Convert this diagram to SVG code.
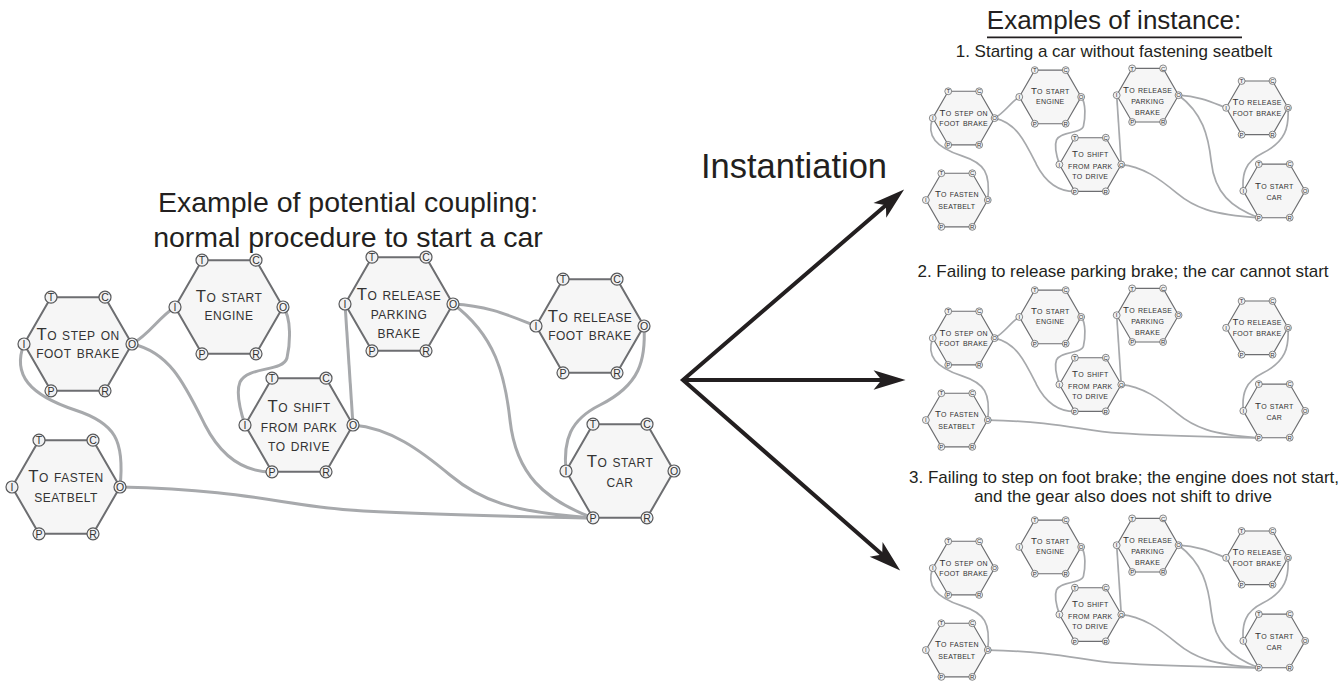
<svg xmlns="http://www.w3.org/2000/svg" xmlns:xlink="http://www.w3.org/1999/xlink" width="1340" height="684" viewBox="0 0 1340 684">
<style>
.hex{fill:#f6f6f6;stroke:#6d6e71;stroke-width:2}
.pc{fill:#f1f1f2;stroke:#58595b;stroke-width:1.2}
.pl{font-family:"Liberation Sans",Arial,sans-serif;font-size:10.5px;fill:#333;text-anchor:middle}
.lbl{font-family:"Liberation Sans",Arial,sans-serif;font-size:16.8px;font-variant:small-caps;letter-spacing:0.5px;fill:#333;text-anchor:middle}
.cn{fill:none;stroke:#a7a9ac;stroke-width:3}
.t{font-family:"Liberation Sans",Arial,sans-serif;fill:#231f20;text-anchor:middle}
.arr{fill:none;stroke:#231f20;stroke-width:4;stroke-linejoin:miter;stroke-miterlimit:10}
</style>
<defs>
<polygon id="hex" points="54,0 27,46.8 -27,46.8 -54,0 -27,-46.8 27,-46.8"/>
<g id="ports">
<circle class="pc" cx="-27" cy="-46.8" r="6"/><text class="pl" x="-27" y="-43">T</text>
<circle class="pc" cx="27" cy="-46.8" r="6"/><text class="pl" x="27" y="-43">C</text>
<circle class="pc" cx="54" cy="0" r="6"/><text class="pl" x="54" y="3.8">O</text>
<circle class="pc" cx="27" cy="46.8" r="6"/><text class="pl" x="27" y="50.6">R</text>
<circle class="pc" cx="-27" cy="46.8" r="6"/><text class="pl" x="-27" y="50.6">P</text>
<circle class="pc" cx="-54" cy="0" r="6"/><text class="pl" x="-54" y="3.8">I</text>
</g>
<marker id="ah" markerUnits="userSpaceOnUse" orient="auto-start-reverse" refX="0" refY="0" markerWidth="40" markerHeight="30" viewBox="-20 -15 45 30" overflow="visible">
<path d="M22,0 L-14,-11 L-5,0 L-14,11 Z" fill="#231f20"/>
</marker>
</defs>

<!-- Titles -->
<text class="t" x="348" y="212" font-size="28.5">Example of potential coupling:</text>
<text class="t" x="348" y="247" font-size="28.5">normal procedure to start a car</text>
<text class="t" x="794" y="178" font-size="34.5">Instantiation</text>
<text class="t" x="1114" y="29" font-size="26">Examples of instance:</text>
<line x1="987" y1="37.3" x2="1242" y2="37.3" stroke="#231f20" stroke-width="1.8"/>
<text class="t" x="1114" y="57" font-size="17">1. Starting a car without fastening seatbelt</text>
<text class="t" x="1123" y="277" font-size="17">2. Failing to release parking brake; the car cannot start</text>
<text class="t" x="1124" y="483" font-size="17">3. Failing to step on foot brake; the engine does not start,</text>
<text class="t" x="1123" y="502" font-size="17">and the gear also does not shift to drive</text>

<!-- Instantiation arrows -->
<g id="arrows">
<path class="arr" d="M889.3,202.3 L683,380 L885.5,557.5" marker-start="url(#ah)" marker-end="url(#ah)"/>
<path class="arr" d="M683,380 L886,380" marker-end="url(#ah)"/>
</g>

<!-- Main diagram: potential coupling -->
<g id="coupling">
<g id="coupling-connectors">
<path class="cn" d="M132,344 C150,334 158,318 175,307"/>
<path class="cn" d="M132,344 C170,352 185,385 205,425 C222,458 245,472 272,472"/>
<path class="cn" d="M24,344 C12,375 30,395 75,410 C115,423 125,440 120,487"/>
<path class="cn" d="M283,307 C292,318 290,345 287,358 C283,372 248,366 240,382 C236,392 240,410 245,425"/>
<path class="cn" d="M353,425 L345,304"/>
<path class="cn" d="M453,304 C490,306 510,316 536,326"/>
<path class="cn" d="M453,304 C495,335 505,375 510,420 C516,475 545,500 593,518"/>
<path class="cn" d="M353,425 C390,428 420,450 450,475 C480,500 510,512 593,518"/>
<path class="cn" d="M120,487 C250,490 280,505 350,510 C420,515 500,516 593,518"/>
<path class="cn" d="M644,326 C646,360 640,385 600,405 C570,420 563,440 566,471"/>
</g>
<g id="coupling-footbrake" transform="translate(78,344)"><use href="#hex" class="hex"/><use href="#ports"/><text class="lbl" y="-4">To step on</text><text class="lbl" y="14">foot brake</text></g>
<g id="coupling-engine" transform="translate(229,307)"><use href="#hex" class="hex"/><use href="#ports"/><text class="lbl" y="-5">To start</text><text class="lbl" y="13">engine</text></g>
<g id="coupling-shift" transform="translate(299,425)"><use href="#hex" class="hex"/><use href="#ports"/><text class="lbl" y="-13">To shift</text><text class="lbl" y="7">from park</text><text class="lbl" y="26">to drive</text></g>
<g id="coupling-seatbelt" transform="translate(66,487)"><use href="#hex" class="hex"/><use href="#ports"/><text class="lbl" y="-5">To fasten</text><text class="lbl" y="15">seatbelt</text></g>
<g id="coupling-parking" transform="translate(399,304)"><use href="#hex" class="hex"/><use href="#ports"/><text class="lbl" y="-4">To release</text><text class="lbl" y="15">parking</text><text class="lbl" y="34">brake</text></g>
<g id="coupling-footrelease" transform="translate(590,326)"><use href="#hex" class="hex"/><use href="#ports"/><text class="lbl" y="-4.5">To release</text><text class="lbl" y="13.5">foot brake</text></g>
<g id="coupling-car" transform="translate(620,471)"><use href="#hex" class="hex"/><use href="#ports"/><text class="lbl" y="-4">To start</text><text class="lbl" y="16">car</text></g>
</g>

<!-- Instance 1 -->
<g id="inst1" transform="translate(919,-79) scale(0.573)">
<g id="inst1-connectors">
<path class="cn" d="M132,344 C150,334 158,318 175,307"/>
<path class="cn" d="M132,344 C170,352 185,385 205,425 C222,458 245,472 272,472"/>
<path class="cn" d="M24,344 C12,375 30,395 75,410 C115,423 125,440 120,487"/>
<path class="cn" d="M283,307 C292,318 290,345 287,358 C283,372 248,366 240,382 C236,392 240,410 245,425"/>
<path class="cn" d="M353,425 L345,304"/>
<path class="cn" d="M453,304 C490,306 510,316 536,326"/>
<path class="cn" d="M453,304 C495,335 505,375 510,420 C516,475 545,500 593,518"/>
<path class="cn" d="M353,425 C390,428 420,450 450,475 C480,500 510,512 593,518"/>
<path class="cn" d="M644,326 C646,360 640,385 600,405 C570,420 563,440 566,471"/>
</g>
<g id="inst1-footbrake" transform="translate(78,344)"><use href="#hex" class="hex"/><use href="#ports"/><text class="lbl" y="-4">To step on</text><text class="lbl" y="14">foot brake</text></g>
<g id="inst1-engine" transform="translate(229,307)"><use href="#hex" class="hex"/><use href="#ports"/><text class="lbl" y="-5">To start</text><text class="lbl" y="13">engine</text></g>
<g id="inst1-shift" transform="translate(299,425)"><use href="#hex" class="hex"/><use href="#ports"/><text class="lbl" y="-13">To shift</text><text class="lbl" y="7">from park</text><text class="lbl" y="26">to drive</text></g>
<g id="inst1-seatbelt" transform="translate(66,487)"><use href="#hex" class="hex"/><use href="#ports"/><text class="lbl" y="-5">To fasten</text><text class="lbl" y="15">seatbelt</text></g>
<g id="inst1-parking" transform="translate(399,304)"><use href="#hex" class="hex"/><use href="#ports"/><text class="lbl" y="-4">To release</text><text class="lbl" y="15">parking</text><text class="lbl" y="34">brake</text></g>
<g id="inst1-footrelease" transform="translate(590,326)"><use href="#hex" class="hex"/><use href="#ports"/><text class="lbl" y="-4.5">To release</text><text class="lbl" y="13.5">foot brake</text></g>
<g id="inst1-car" transform="translate(620,471)"><use href="#hex" class="hex"/><use href="#ports"/><text class="lbl" y="-4">To start</text><text class="lbl" y="16">car</text></g>
</g>

<!-- Instance 2 -->
<g id="inst2" transform="translate(919,141) scale(0.573)">
<g id="inst2-connectors">
<path class="cn" d="M132,344 C150,334 158,318 175,307"/>
<path class="cn" d="M132,344 C170,352 185,385 205,425 C222,458 245,472 272,472"/>
<path class="cn" d="M24,344 C12,375 30,395 75,410 C115,423 125,440 120,487"/>
<path class="cn" d="M283,307 C292,318 290,345 287,358 C283,372 248,366 240,382 C236,392 240,410 245,425"/>
<path class="cn" d="M353,425 L345,304"/>
<path class="cn" d="M353,425 C390,428 420,450 450,475 C480,500 510,512 593,518"/>
<path class="cn" d="M120,487 C250,490 280,505 350,510 C420,515 500,516 593,518"/>
<path class="cn" d="M644,326 C646,360 640,385 600,405 C570,420 563,440 566,471"/>
</g>
<g id="inst2-footbrake" transform="translate(78,344)"><use href="#hex" class="hex"/><use href="#ports"/><text class="lbl" y="-4">To step on</text><text class="lbl" y="14">foot brake</text></g>
<g id="inst2-engine" transform="translate(229,307)"><use href="#hex" class="hex"/><use href="#ports"/><text class="lbl" y="-5">To start</text><text class="lbl" y="13">engine</text></g>
<g id="inst2-shift" transform="translate(299,425)"><use href="#hex" class="hex"/><use href="#ports"/><text class="lbl" y="-13">To shift</text><text class="lbl" y="7">from park</text><text class="lbl" y="26">to drive</text></g>
<g id="inst2-seatbelt" transform="translate(66,487)"><use href="#hex" class="hex"/><use href="#ports"/><text class="lbl" y="-5">To fasten</text><text class="lbl" y="15">seatbelt</text></g>
<g id="inst2-parking" transform="translate(399,304)"><use href="#hex" class="hex"/><use href="#ports"/><text class="lbl" y="-4">To release</text><text class="lbl" y="15">parking</text><text class="lbl" y="34">brake</text></g>
<g id="inst2-footrelease" transform="translate(590,326)"><use href="#hex" class="hex"/><use href="#ports"/><text class="lbl" y="-4.5">To release</text><text class="lbl" y="13.5">foot brake</text></g>
<g id="inst2-car" transform="translate(620,471)"><use href="#hex" class="hex"/><use href="#ports"/><text class="lbl" y="-4">To start</text><text class="lbl" y="16">car</text></g>
</g>

<!-- Instance 3 -->
<g id="inst3" transform="translate(919,371) scale(0.573)">
<g id="inst3-connectors">
<path class="cn" d="M24,344 C12,375 30,395 75,410 C115,423 125,440 120,487"/>
<path class="cn" d="M283,307 C292,318 290,345 287,358 C283,372 248,366 240,382 C236,392 240,410 245,425"/>
<path class="cn" d="M353,425 L345,304"/>
<path class="cn" d="M453,304 C490,306 510,316 536,326"/>
<path class="cn" d="M453,304 C495,335 505,375 510,420 C516,475 545,500 593,518"/>
<path class="cn" d="M353,425 C390,428 420,450 450,475 C480,500 510,512 593,518"/>
<path class="cn" d="M120,487 C250,490 280,505 350,510 C420,515 500,516 593,518"/>
<path class="cn" d="M644,326 C646,360 640,385 600,405 C570,420 563,440 566,471"/>
</g>
<g id="inst3-footbrake" transform="translate(78,344)"><use href="#hex" class="hex"/><use href="#ports"/><text class="lbl" y="-4">To step on</text><text class="lbl" y="14">foot brake</text></g>
<g id="inst3-engine" transform="translate(229,307)"><use href="#hex" class="hex"/><use href="#ports"/><text class="lbl" y="-5">To start</text><text class="lbl" y="13">engine</text></g>
<g id="inst3-shift" transform="translate(299,425)"><use href="#hex" class="hex"/><use href="#ports"/><text class="lbl" y="-13">To shift</text><text class="lbl" y="7">from park</text><text class="lbl" y="26">to drive</text></g>
<g id="inst3-seatbelt" transform="translate(66,487)"><use href="#hex" class="hex"/><use href="#ports"/><text class="lbl" y="-5">To fasten</text><text class="lbl" y="15">seatbelt</text></g>
<g id="inst3-parking" transform="translate(399,304)"><use href="#hex" class="hex"/><use href="#ports"/><text class="lbl" y="-4">To release</text><text class="lbl" y="15">parking</text><text class="lbl" y="34">brake</text></g>
<g id="inst3-footrelease" transform="translate(590,326)"><use href="#hex" class="hex"/><use href="#ports"/><text class="lbl" y="-4.5">To release</text><text class="lbl" y="13.5">foot brake</text></g>
<g id="inst3-car" transform="translate(620,471)"><use href="#hex" class="hex"/><use href="#ports"/><text class="lbl" y="-4">To start</text><text class="lbl" y="16">car</text></g>
</g>
</svg>
